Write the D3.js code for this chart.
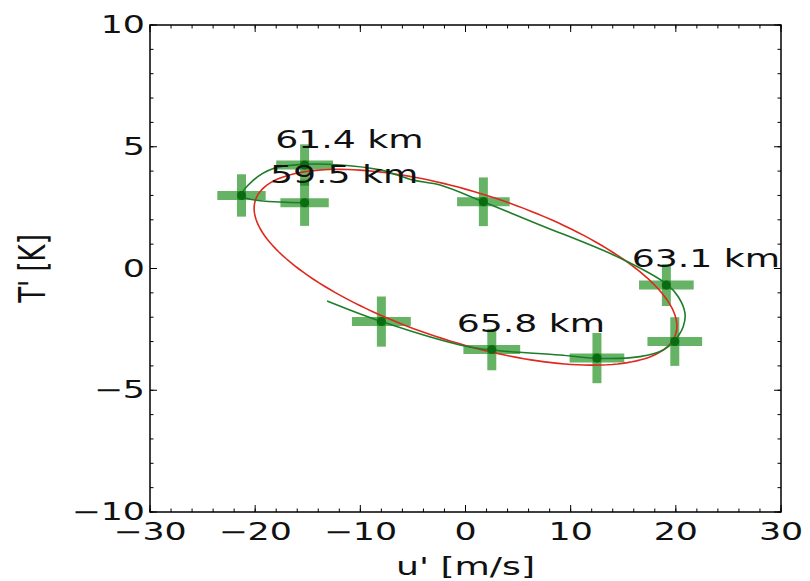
<!DOCTYPE html>
<html><head><meta charset="utf-8">
<script src="https://cdn.jsdelivr.net/npm/d3@7"></script>
<style>body{margin:0;background:#fff}svg{display:block}text{font-family:"DejaVu Sans",sans-serif;fill:#111}</style>
</head><body><svg id="c" width="810" height="581"></svg>
<script>
// Observed points (u' [m/s], T' [K]) with error half-widths
const pointU  = [-21.3, -15.3, -15.3, 1.7, 19.1, 19.9, 12.5, 2.5, -8.0];
const pointT  = [3.0, 2.7, 4.25, 2.74, -0.68, -3.0, -3.68, -3.33, -2.18];
const errU    = [2.3, 2.3, 2.7, 2.5, 2.6, 2.6, 2.6, 2.7, 2.8];
const errT    = [0.87, 0.95, 0.85, 1.0, 0.86, 1.0, 1.03, 0.85, 1.03];
// Green smoothed hodograph curve
const greenU = [-13.16, -7.97, -0.52, 2.49, 8.98, 12.47, 16.59, 18.8, 19.9, 20.7, 20.87, 20.23, 19.15, 14.69, 7.08, 1.69, -2.42, -4.96, -8.13, -11.9, -15.26, -18.27, -20.17, -21.27, -15.26];
const greenT = [-1.33, -2.18, -3.14, -3.35, -3.55, -3.69, -3.62, -3.35, -2.95, -2.39, -1.84, -1.16, -0.65, 0.43, 1.79, 2.74, 3.43, 3.63, 4.05, 4.25, 4.28, 4.11, 3.63, 2.99, 2.70];
// Red fitted ellipse parameters: u = U cos(phi), T = c + A cos(phi - delta)
const ellipseU = 20.1, ellipseA = 4.02, ellipseC = 0.05, ellipseDeltaDeg = 127;
// Altitude annotations
const labelText = ["61.4 km", "59.5 km", "63.1 km", "65.8 km"];
const labelU = [-18.1, -18.6, 15.8, -0.84];
const labelT = [4.95, 3.5, 0.07, -2.6];
// Axis ticks
const xTicks = [-30, -20, -10, 0, 10, 20, 30];
const yTicks = [-10, -5, 0, 5, 10];
const xMinor = d3.range(-30, 31, 2);
const yMinor = d3.range(-10, 11, 1);

const SX = 1.45; // horizontal stretch of the original raster
const svg = d3.select("#c");
const L = 150, R = 781, T = 25, B = 512;
const x = d3.scaleLinear().domain([-30, 30]).range([L, R]);
const y = d3.scaleLinear().domain([-10, 10]).range([B, T]);

// error bars
const eb = svg.append("g").attr("stroke", "#008000").attr("stroke-opacity", 0.6).attr("stroke-width", 9);
pointU.forEach((u, i) => {
  eb.append("line").attr("x1", x(u - errU[i])).attr("x2", x(u + errU[i])).attr("y1", y(pointT[i])).attr("y2", y(pointT[i]));
  eb.append("line").attr("x1", x(u)).attr("x2", x(u)).attr("y1", y(pointT[i] - errT[i])).attr("y2", y(pointT[i] + errT[i]));
});

// red ellipse
const d = ellipseDeltaDeg * Math.PI / 180;
const ell = d3.range(0, 361, 2).map(a => { const p = a * Math.PI / 180; return [ellipseU * Math.cos(p), ellipseC + ellipseA * Math.cos(p - d)]; });
svg.append("path").datum(ell).attr("fill", "none").attr("stroke", "#e0281e").attr("stroke-width", 1.6)
  .attr("d", d3.line().x(p => x(p[0])).y(p => y(p[1])));

// green curve
svg.append("path").datum(greenU.map((u, i) => [u, greenT[i]])).attr("fill", "none").attr("stroke", "#1d7d2a").attr("stroke-width", 1.6)
  .attr("d", d3.line().curve(d3.curveCatmullRom.alpha(0.5)).x(p => x(p[0])).y(p => y(p[1])));

// dots
svg.append("g").selectAll("circle").data(pointU).join("circle")
  .attr("cx", (u) => x(u)).attr("cy", (u, i) => y(pointT[i])).attr("r", 4.5).attr("fill", "#0b6b12");

// labels
labelText.forEach((t, i) => {
  svg.append("text").attr("transform", `translate(${x(labelU[i])},${y(labelT[i])}) scale(${SX},1)`)
    .attr("font-size", 25).text(t);
});

// axes frame & ticks (inward)
const ax = svg.append("g").attr("stroke", "#000");
function tickLines(vals, len) {
  vals.forEach(v => {
    ax.append("line").attr("x1", x(v)).attr("x2", x(v)).attr("y1", B).attr("y2", B - len);
    ax.append("line").attr("x1", x(v)).attr("x2", x(v)).attr("y1", T).attr("y2", T + len);
  });
}
function tickLinesY(vals, len) {
  vals.forEach(v => {
    ax.append("line").attr("y1", y(v)).attr("y2", y(v)).attr("x1", L).attr("x2", L + len);
    ax.append("line").attr("y1", y(v)).attr("y2", y(v)).attr("x1", R).attr("x2", R - len);
  });
}
tickLines(xMinor, 3.5); tickLinesY(yMinor, 3.5);
tickLines(xTicks, 7); tickLinesY(yTicks, 7);
ax.selectAll("line").attr("stroke-width", 1);
svg.append("rect").attr("x", L).attr("y", T).attr("width", R - L).attr("height", B - T)
  .attr("fill", "none").attr("stroke", "#000").attr("stroke-width", 1.5);

const fmt = v => (v < 0 ? "\u2212" + Math.abs(v) : String(v));
xTicks.forEach(v => {
  svg.append("text").attr("transform", `translate(${x(v)},540) scale(${SX},1)`).attr("text-anchor", "middle")
    .attr("font-size", 24).text(fmt(v));
});
yTicks.forEach(v => {
  svg.append("text").attr("transform", `translate(145,${y(v) + 8}) scale(${SX},1)`).attr("text-anchor", "end")
    .attr("font-size", 24).text(fmt(v));
});
svg.append("text").attr("transform", `translate(${(L + R) / 2},575) scale(${SX},1)`).attr("text-anchor", "middle")
  .attr("font-size", 25).text("u' [m/s]");
svg.append("text").attr("transform", `translate(45,${(T + B) / 2}) scale(${SX},1) rotate(-90)`).attr("text-anchor", "middle")
  .attr("font-size", 26).text("T' [K]");
</script></body></html>
